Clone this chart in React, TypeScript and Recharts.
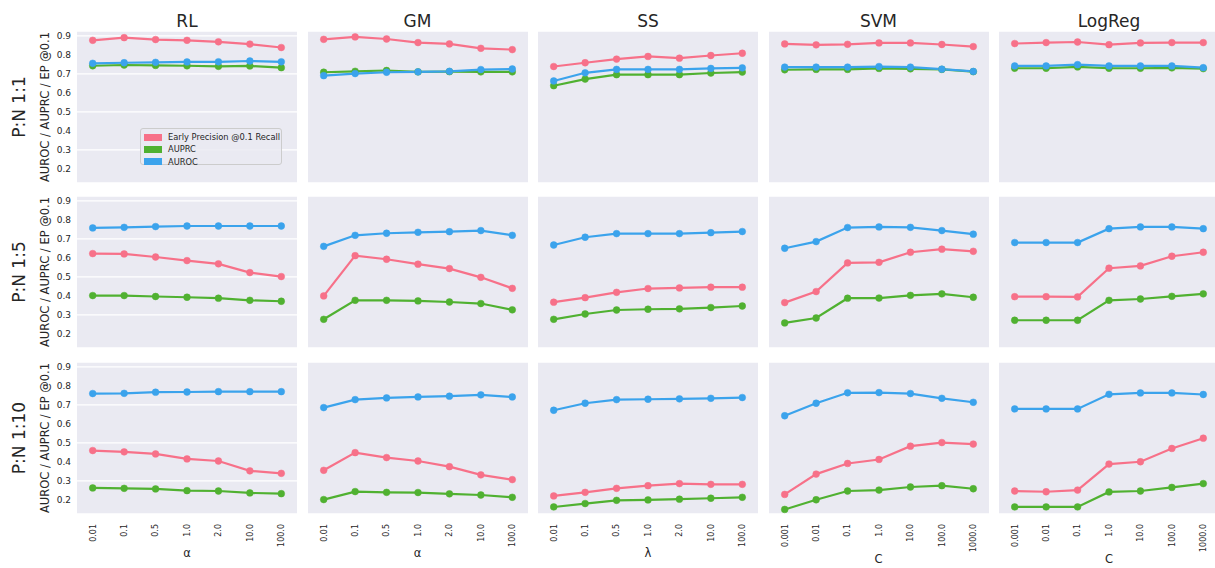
import { LineChart, Line, XAxis, YAxis, CartesianGrid } from "recharts";

const MODELS = ["RL", "GM", "SS", "SVM", "LogReg"];
const RATIOS = ["P:N 1:1", "P:N 1:5", "P:N 1:10"];
const ALPHA_TICKS = ["0.01", "0.1", "0.5", "1.0", "2.0", "10.0", "100.0"];
const C_TICKS = ["0.001", "0.01", "0.1", "1.0", "10.0", "100.0", "1000.0"];
const PARAM_TICKS = [ALPHA_TICKS, ALPHA_TICKS, ALPHA_TICKS, C_TICKS, C_TICKS];
const PARAM_LABELS = ["α", "α", "λ", "C", "C"];
const Y_TICKS = [0.2, 0.3, 0.4, 0.5, 0.6, 0.7, 0.8, 0.9];

// one row per ratio (1:1, 1:5, 1:10)
const RL_EP = [
  [0.877, 0.891, 0.881, 0.877, 0.869, 0.857, 0.839],
  [0.623, 0.621, 0.605, 0.586, 0.569, 0.523, 0.502],
  [0.46, 0.453, 0.442, 0.416, 0.405, 0.353, 0.34],
];
const RL_AUPRC = [
  [0.743, 0.747, 0.745, 0.743, 0.74, 0.742, 0.733],
  [0.402, 0.402, 0.397, 0.393, 0.388, 0.377, 0.372],
  [0.263, 0.261, 0.258, 0.249, 0.247, 0.237, 0.233],
];
const RL_AUROC = [
  [0.756, 0.759, 0.761, 0.763, 0.764, 0.768, 0.764],
  [0.758, 0.761, 0.765, 0.768, 0.768, 0.768, 0.768],
  [0.76, 0.761, 0.767, 0.768, 0.77, 0.77, 0.77],
];

const GM_EP = [
  [0.882, 0.895, 0.884, 0.865, 0.858, 0.835, 0.828],
  [0.4, 0.612, 0.593, 0.567, 0.544, 0.498, 0.44],
  [0.356, 0.449, 0.423, 0.405, 0.375, 0.332, 0.307],
];
const GM_AUPRC = [
  [0.709, 0.714, 0.718, 0.711, 0.712, 0.711, 0.711],
  [0.277, 0.377, 0.377, 0.374, 0.368, 0.36, 0.327],
  [0.202, 0.244, 0.24, 0.239, 0.232, 0.226, 0.214],
];
const GM_AUROC = [
  [0.691, 0.702, 0.709, 0.711, 0.714, 0.723, 0.726],
  [0.661, 0.719, 0.73, 0.735, 0.738, 0.744, 0.719],
  [0.686, 0.728, 0.737, 0.742, 0.746, 0.753, 0.742],
];

const SS_EP = [
  [0.739, 0.759, 0.778, 0.792, 0.783, 0.797, 0.809],
  [0.367, 0.391, 0.419, 0.439, 0.442, 0.446, 0.446],
  [0.221, 0.24, 0.261, 0.275, 0.286, 0.282, 0.282],
];
const SS_AUPRC = [
  [0.638, 0.673, 0.696, 0.696, 0.696, 0.705, 0.71],
  [0.277, 0.305, 0.326, 0.33, 0.332, 0.339, 0.347],
  [0.163, 0.181, 0.198, 0.2, 0.204, 0.209, 0.214],
];
const SS_AUROC = [
  [0.663, 0.706, 0.724, 0.724, 0.724, 0.729, 0.732],
  [0.668, 0.709, 0.728, 0.728, 0.728, 0.733, 0.739],
  [0.672, 0.709, 0.728, 0.73, 0.732, 0.735, 0.739],
];

const SVM_EP = [
  [0.858, 0.853, 0.856, 0.863, 0.863, 0.855, 0.844],
  [0.365, 0.423, 0.574, 0.577, 0.63, 0.646, 0.635],
  [0.229, 0.336, 0.392, 0.413, 0.483, 0.502, 0.494],
];
const SVM_AUPRC = [
  [0.722, 0.724, 0.724, 0.729, 0.727, 0.724, 0.712],
  [0.258, 0.284, 0.388, 0.389, 0.403, 0.411, 0.393],
  [0.15, 0.201, 0.247, 0.252, 0.268, 0.275, 0.259],
];
const SVM_AUROC = [
  [0.736, 0.736, 0.736, 0.739, 0.736, 0.725, 0.713],
  [0.651, 0.686, 0.76, 0.763, 0.761, 0.744, 0.725],
  [0.643, 0.709, 0.764, 0.765, 0.76, 0.735, 0.714],
];

const LOGREG_EP = [
  [0.86, 0.865, 0.868, 0.854, 0.863, 0.865, 0.865],
  [0.396, 0.396, 0.395, 0.546, 0.558, 0.609, 0.63],
  [0.247, 0.243, 0.252, 0.389, 0.401, 0.471, 0.525],
];
const LOGREG_AUPRC = [
  [0.73, 0.73, 0.737, 0.73, 0.73, 0.732, 0.728],
  [0.272, 0.272, 0.272, 0.377, 0.384, 0.398, 0.411],
  [0.163, 0.163, 0.163, 0.242, 0.247, 0.266, 0.286],
];
const LOGREG_AUROC = [
  [0.742, 0.742, 0.749, 0.742, 0.742, 0.742, 0.733],
  [0.681, 0.681, 0.681, 0.754, 0.763, 0.763, 0.754],
  [0.679, 0.679, 0.679, 0.756, 0.763, 0.763, 0.755],
];

const EP = [RL_EP, GM_EP, SS_EP, SVM_EP, LOGREG_EP];
const AUPRC = [RL_AUPRC, GM_AUPRC, SS_AUPRC, SVM_AUPRC, LOGREG_AUPRC];
const AUROC = [RL_AUROC, GM_AUROC, SS_AUROC, SVM_AUROC, LOGREG_AUROC];

const SERIES = [
  { key: "ep", name: "Early Precision @0.1 Recall", color: "#f77189" },
  { key: "auprc", name: "AUPRC", color: "#50b131" },
  { key: "auroc", name: "AUROC", color: "#3ba3ec" },
];

const FONT = "'DejaVu Sans', sans-serif";
const TEXT = "#262626";
const COL_LEFT = [77, 307.5, 538, 768.5, 999];
const ROW_TOP = [31, 196, 362];
const PLOT_W = 220;
const PLOT_H = 152;
const AXIS_W = 30;
const AXIS_H = 60;
const Y_DOMAIN = [0.126, 0.926];
const XLABEL_Y = [557, 557, 557, 563, 563];

function RotatedTick(props: any) {
  const { x, y, payload } = props;
  return (
    <text
      x={x}
      y={y}
      dy="0.35em"
      transform={`rotate(-90 ${x} ${y})`}
      textAnchor="end"
      fontSize={8}
      fontFamily={FONT}
      fill={TEXT}
    >
      {payload.value}
    </text>
  );
}

function Panel({ row, col }: { row: number; col: number }) {
  const data = PARAM_TICKS[col].map((p, i) => ({
    param: p,
    ep: EP[col][row][i],
    auprc: AUPRC[col][row][i],
    auroc: AUROC[col][row][i],
  }));
  const pad = PLOT_W / 14;

  return (
    <div style={{ position: "absolute", left: COL_LEFT[col] - AXIS_W, top: ROW_TOP[row] }}>
      <LineChart
        width={PLOT_W + AXIS_W}
        height={PLOT_H + AXIS_H}
        data={data}
        margin={{ top: 0, right: 0, bottom: 0, left: 0 }}
      >
        <CartesianGrid vertical={false} fill="#eaeaf2" fillOpacity={1} stroke="#ffffff" strokeWidth={1.3} />
        <XAxis
          dataKey="param"
          height={AXIS_H}
          interval={0}
          padding={{ left: pad, right: pad }}
          axisLine={false}
          tickLine={false}
          tickSize={8}
          tickMargin={2}
          tick={row === 2 ? (p: any) => <RotatedTick {...p} /> : false}
        />
        <YAxis
          type="number"
          width={AXIS_W}
          domain={Y_DOMAIN}
          ticks={Y_TICKS}
          allowDataOverflow
          axisLine={false}
          tickLine={false}
          tickSize={4}
          tickMargin={2}
          tickFormatter={(v: number) => v.toFixed(1)}
          tick={col === 0 ? { fill: TEXT, fontSize: 9, fontFamily: FONT } : false}
        />
        {SERIES.map((s) => (
          <Line
            key={s.key}
            dataKey={s.key}
            stroke={s.color}
            strokeWidth={2.2}
            dot={{ r: 3.4, fill: s.color, stroke: s.color, strokeWidth: 0.5 }}
            isAnimationActive={false}
          />
        ))}
      </LineChart>
    </div>
  );
}

export default function App() {
  return (
    <div
      style={{
        position: "fixed",
        left: 0,
        top: 0,
        width: 1215,
        height: 568,
        overflow: "hidden",
        background: "#ffffff",
        fontFamily: FONT,
      }}
    >
      {ROW_TOP.map((_, r) => MODELS.map((_, c) => <Panel key={`${r}-${c}`} row={r} col={c} />))}

      <svg width={1215} height={568} style={{ position: "absolute", left: 0, top: 0, pointerEvents: "none" }}>
        {MODELS.map((m, c) => (
          <text key={m} x={COL_LEFT[c] + PLOT_W / 2} y={26.5} textAnchor="middle" fontSize={17} fontFamily={FONT} fill={TEXT}>
            {m}
          </text>
        ))}
        {RATIOS.map((r, i) => {
          const cy = ROW_TOP[i] + PLOT_H / 2;
          return (
            <g key={r}>
              <text x={25} y={cy} transform={`rotate(-90 25 ${cy})`} textAnchor="middle" fontSize={17} fontFamily={FONT} fill={TEXT}>
                {r}
              </text>
              <text x={49} y={cy} transform={`rotate(-90 49 ${cy})`} textAnchor="middle" fontSize={11.5} fontFamily={FONT} fill={TEXT}>
                AUROC / AUPRC / EP @0.1
              </text>
            </g>
          );
        })}
        {PARAM_LABELS.map((l, c) => (
          <text key={c} x={COL_LEFT[c] + PLOT_W / 2} y={XLABEL_Y[c]} textAnchor="middle" fontSize={11.5} fontFamily={FONT} fill={TEXT}>
            {l}
          </text>
        ))}
      </svg>

      <div
        style={{
          position: "absolute",
          left: 140,
          top: 128,
          width: 142,
          height: 37,
          background: "rgba(234,234,242,0.85)",
          border: "1px solid #cccccc",
          borderRadius: 3,
          boxSizing: "border-box",
          padding: "2px 0 0 3px",
        }}
      >
        {SERIES.map((s) => (
          <div key={s.key} style={{ display: "flex", alignItems: "center", height: 12.3 }}>
            <span style={{ width: 18, height: 7, background: s.color, marginRight: 6, flex: "none" }} />
            <span style={{ fontSize: 8.3, color: TEXT, whiteSpace: "nowrap", lineHeight: "12px" }}>{s.name}</span>
          </div>
        ))}
      </div>
    </div>
  );
}
